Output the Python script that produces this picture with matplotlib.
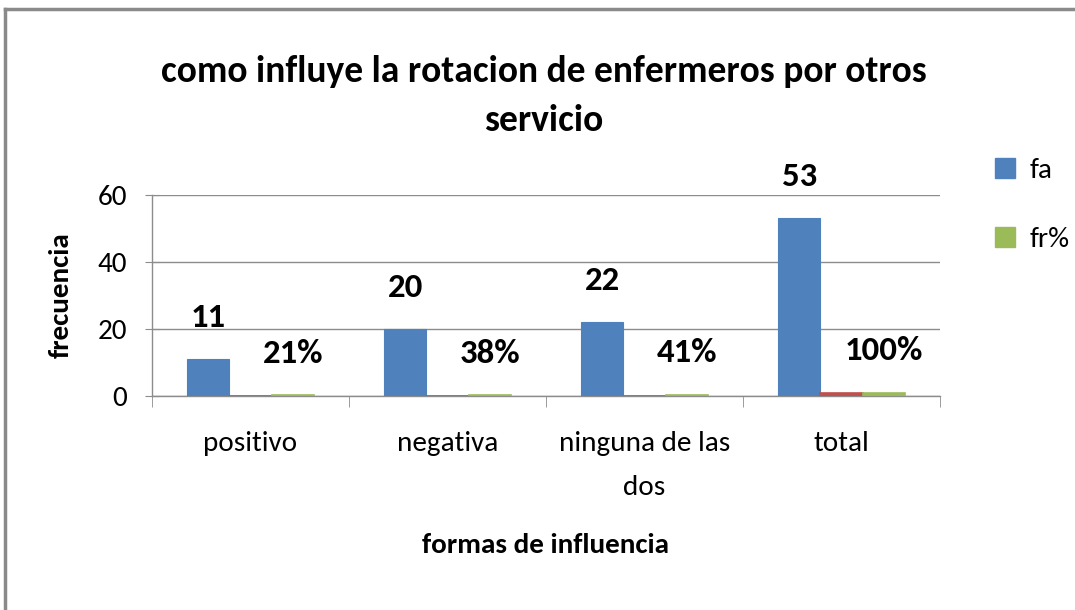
import matplotlib
matplotlib.use("Agg")
import matplotlib.pyplot as plt
from matplotlib.patches import Rectangle
import numpy as np

# ── data ──────────────────────────────────────────────────────────────────────
categories = ["positivo", "negativa", "ninguna de las\ndos", "total"]
fa         = [11, 20, 22, 53]
extra      = [0, 0, 0, 1]            # unnamed red series, only visible at total
fr_pct     = [0.21, 0.38, 0.41, 1.00]
fa_labels  = ["11", "20", "22", "53"]
fr_labels  = ["21%", "38%", "41%", "100%"]

BLUE  = "#4F81BD"
RED   = "#C0504D"
GREEN = "#9BBB59"
GRID  = "#8C8C8C"

plt.rcParams["font.family"] = ["Carlito", "Liberation Sans", "DejaVu Sans"]

fig = plt.figure(figsize=(10.75, 6.1), dpi=100)
ax = fig.add_axes([152/1075, 1 - 396/610, 788/1075, 201/610])

# ── bars ──────────────────────────────────────────────────────────────────────
x = np.arange(len(categories)) + 0.5
w = 0.215
b_fa = ax.bar(x - w, fa, w, color=BLUE, edgecolor=BLUE, linewidth=0.8, zorder=3)
ax.bar(x, extra, w, color=RED, edgecolor=RED, linewidth=1.2, zorder=3)
b_fr = ax.bar(x + w, fr_pct, w, color=GREEN, edgecolor=GREEN, linewidth=1.2, zorder=3)

for bars, labels in [(b_fa, fa_labels), (b_fr, fr_labels)]:
    for bar, lab in zip(bars, labels):
        ax.annotate(lab, (bar.get_x() + bar.get_width() / 2, bar.get_height()),
                    xytext=(0, 30), textcoords="offset points", ha="center",
                    va="center", fontsize=25, fontweight="bold")

# ── axes styling ──────────────────────────────────────────────────────────────
ax.set_xlim(0, len(categories))
ax.set_ylim(0, 60)
ax.set_yticks([0, 20, 40, 60])
ax.yaxis.grid(True, color=GRID, linewidth=1.0, zorder=0)
ax.set_axisbelow(True)
for s in ["top", "right"]:
    ax.spines[s].set_visible(False)
for s in ["left", "bottom"]:
    ax.spines[s].set_color(GRID)
    ax.spines[s].set_linewidth(1.0)

ax.set_xticks(x)
ax.set_xticklabels(categories, fontsize=21, linespacing=1.95, va="top")
ax.set_xticks(np.arange(len(categories) + 1), minor=True)
ax.tick_params(axis="x", which="major", length=0, pad=25)
ax.tick_params(axis="x", which="minor", length=8, color=GRID, direction="out")
ax.tick_params(axis="y", labelsize=21, length=10, color=GRID,
               direction="inout", pad=13)

ax.set_xlabel("formas de influencia", fontsize=21, fontweight="bold", labelpad=24)
ax.set_ylabel("frecuencia", fontsize=21, fontweight="bold", labelpad=18)

# ── title ─────────────────────────────────────────────────────────────────────
fig.text(544/1075, 1 - 96/610, "como influye la rotacion de enfermeros por otros\nservicio",
         ha="center", va="center", fontsize=27, fontweight="bold", linespacing=1.6)

# ── legend ────────────────────────────────────────────────────────────────────
fig.legend([Rectangle((0, 0), 1, 1, color=BLUE), Rectangle((0, 0), 1, 1, color=GREEN)],
           ["fa", "fr%"], loc="upper left", bbox_to_anchor=(983/1075, 1 - 146/610),
           frameon=False, fontsize=21, handlelength=0.7, handleheight=0.7,
           handletextpad=0.5, labelspacing=1.5, borderaxespad=0)

# ── outer frame (chart area border, cut at right/bottom) ─────────────────────
fig.add_artist(plt.Line2D([5/1075, 5/1075], [0, 1 - 9/610], color="#8A8A8A",
                          linewidth=2.5, transform=fig.transFigure))
fig.add_artist(plt.Line2D([5/1075, 1], [1 - 9/610, 1 - 9/610], color="#8A8A8A",
                          linewidth=2.5, transform=fig.transFigure))

fig.savefig("out.png", dpi=100)
